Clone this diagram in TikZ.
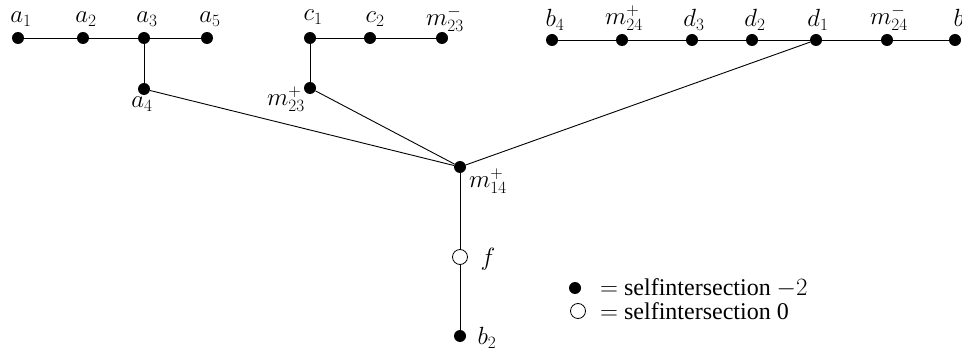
\documentclass[tikz,border=0pt]{standalone}
\usepackage{fontspec}
\setmainfont{Liberation Serif}
\begin{document}
\begin{tikzpicture}[x=1pt,y=-1pt,
  dot/.style={circle,fill=black,inner sep=0pt,minimum size=12pt},
  odot/.style={circle,draw=black,fill=white,line width=0.8pt,inner sep=0pt,minimum size=15pt},
  lab/.style={font=\fontsize{26}{30}\selectfont,inner sep=0pt},
  leg/.style={font=\fontsize{24}{28}\selectfont,inner sep=0pt},
  edge/.style={line width=0.9pt}]
\useasboundingbox (0,0) rectangle (962,350);
% nodes
\node[dot] (a1) at (18,38) {};
\node[dot] (a2) at (83,38) {};
\node[dot] (a3) at (144,38) {};
\node[dot] (a5) at (207,38) {};
\node[dot] (a4) at (144,89) {};
\node[dot] (c1) at (310,38) {};
\node[dot] (c2) at (370,38) {};
\node[dot] (m23m) at (442,38) {};
\node[dot] (m23p) at (310,88) {};
\node[dot] (b4) at (552,40) {};
\node[dot] (m24p) at (622,40) {};
\node[dot] (d3) at (692,40) {};
\node[dot] (d2) at (752,40) {};
\node[dot] (d1) at (816,40) {};
\node[dot] (m24m) at (887,40) {};
\node[dot] (b5) at (955,40) {};
\node[dot] (m14) at (460,167) {};
\node[odot] (f) at (460,257) {};
\node[dot] (b2) at (460,336) {};
% edges
\draw[edge] (a1) -- (a2) -- (a3) -- (a5);
\draw[edge] (a3) -- (a4);
\draw[edge] (a4) -- (m14);
\draw[edge] (c1) -- (c2) -- (m23m);
\draw[edge] (c1) -- (m23p);
\draw[edge] (m23p) -- (m14);
\draw[edge] (b4) -- (m24p) -- (d3) -- (d2) -- (d1) -- (m24m) -- (b5);
\draw[edge] (d1) -- (m14);
\draw[edge] (m14) -- (f) -- (b2);
% labels
\node[lab] (la1) at (21,19) {$a_1$};
\node[lab] (la2) at (86,19) {$a_2$};
\node[lab] (la3) at (147,19) {$a_3$};
\node[lab] (la5) at (210,19) {$a_5$};
\node[lab] (la4) at (142,104) {$a_4$};
\node[lab] (lc1) at (313,17) {$c_1$};
\node[lab] (lc2) at (375,19) {$c_2$};
\node[lab] (lm23m) at (445,19) {$m^-_{23}$};
\node[lab] (lm23p) at (286,99) {$m^+_{23}$};
\node[lab] (lb4) at (555,20) {$b_4$};
\node[lab] (lm24p) at (624,18) {$m^+_{24}$};
\node[lab] (ld3) at (694,20) {$d_3$};
\node[lab] (ld2) at (755,20) {$d_2$};
\node[lab] (ld1) at (818,20) {$d_1$};
\node[lab] (lm24m) at (889,18) {$m^-_{24}$};
\node[lab] (lb5) at (963,20) {$b_5$};
\node[lab] (lm14) at (488,181) {$m^+_{14}$};
\node[lab] (lf) at (488,259) {$f$};
\node[lab] (lb2) at (487,338) {$b_2$};
% legend
\node[dot] (k1) at (575,288) {};
\node[odot] (k2) at (578,311) {};
\node[leg,anchor=west] (t1) at (600,288) {$=$ selfintersection $-2$};
\node[leg,anchor=west] (t2) at (600,311) {$=$ selfintersection 0};
\end{tikzpicture}
\end{document}
